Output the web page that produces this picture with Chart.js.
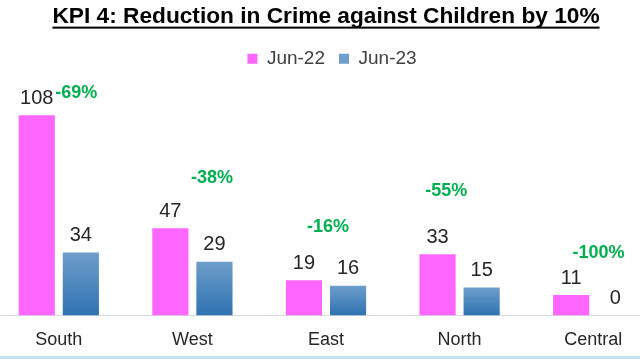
<!DOCTYPE html>
<html><head><meta charset="utf-8">
<script src="https://cdn.jsdelivr.net/npm/chart.js@4.4.1/dist/chart.umd.min.js"></script>
<style>
html,body{margin:0;padding:0;background:#fff;}
#wrap{position:relative;width:640px;height:360px;overflow:hidden;background:#fff;}
#c{position:absolute;left:-8px;top:0;}
#rule{position:absolute;left:0;top:356px;width:640px;height:3px;background:#bfe4f0;}
</style></head><body>
<div id="wrap"><canvas id="c" width="668" height="371"></canvas><div id="rule"></div></div>
<script>
// ---- data ----
const categories = ['South', 'West', 'East', 'North', 'Central'];
const seriesNames = ['Jun-22', 'Jun-23'];
const jun22 = [108, 47, 19, 33, 11];
const jun23 = [34, 29, 16, 15, 0];
const changeLabels = ['-69%', '-38%', '-16%', '-55%', '-100%'];
const titleText = 'KPI 4: Reduction in Crime against Children by 10%';

// ---- styling / placement ----
const FONT = '"Liberation Sans", Arial, sans-serif';
const PINK = '#FF66FF';
const BLUE_TOP = '#6e9ecb', BLUE_BOTTOM = '#2e72b1', BLUE_FLAT = '#4a86c0';
// annotation anchors for the change labels: [offset in category widths, value-axis position]
const changeAnchor = [[0.13, 120], [0.146, 74], [0.015, 47.6], [-0.10, 67], [0.04, 33.5]];

function blueFill(ctx) {
  if (ctx.type !== 'data') return BLUE_FLAT;
  const chart = ctx.chart;
  if (!chart.chartArea || !chart.scales.y) return BLUE_FLAT;
  const y = chart.scales.y;
  const top = y.getPixelForValue(ctx.raw);
  const bottom = y.getPixelForValue(0);
  if (!isFinite(top) || !isFinite(bottom) || bottom - top < 1) return BLUE_FLAT;
  const g = chart.ctx.createLinearGradient(0, top, 0, bottom);
  g.addColorStop(0, BLUE_TOP);
  g.addColorStop(1, BLUE_BOTTOM);
  return g;
}

const labelPlugin = {
  id: 'valueLabels',
  afterDatasetsDraw(chart) {
    const ctx = chart.ctx;
    ctx.save();
    ctx.textAlign = 'center';
    ctx.textBaseline = 'middle';
    ctx.font = '20px ' + FONT;
    ctx.fillStyle = '#262626';
    chart.data.datasets.forEach((ds, i) => {
      chart.getDatasetMeta(i).data.forEach((el, j) => {
        ctx.fillText(String(ds.data[j]), el.x, el.y - 17);
      });
    });
    const xs = chart.scales.x, ys = chart.scales.y;
    const catW = xs.getPixelForValue(1) - xs.getPixelForValue(0);
    ctx.font = 'bold 18px ' + FONT;
    ctx.fillStyle = '#00B050';
    changeLabels.forEach((t, j) => {
      const a = changeAnchor[j];
      ctx.fillText(t, xs.getPixelForValue(j) + a[0] * catW, ys.getPixelForValue(a[1]));
    });
    ctx.restore();
  }
};

const TITLE_PAD = {top: 3, bottom: 5};
const TITLE_FONT = {family: FONT, size: 22.7, weight: 'bold', lineHeight: 1.2};
const LEGEND_SHIFT = 6;
const underlinePlugin = {
  id: 'titleUnderline',
  afterLayout(chart) {
    if (chart.legend) {
      chart.legend.left += LEGEND_SHIFT;
      chart.legend.right += LEGEND_SHIFT;
    }
  },
  afterDraw(chart) {
    const tb = chart.titleBlock;
    if (!tb) return;
    const ctx = chart.ctx;
    ctx.save();
    ctx.font = 'bold ' + TITLE_FONT.size + 'px ' + FONT;
    const w = ctx.measureText(titleText).width;
    const cx = (tb.left + tb.right) / 2;
    const cy = tb.top + TITLE_PAD.top + TITLE_FONT.size * TITLE_FONT.lineHeight / 2;
    ctx.fillStyle = '#000';
    ctx.fillRect(cx - w / 2, cy + 10, w, 2);
    ctx.restore();
  }
};

new Chart(document.getElementById('c'), {
  type: 'bar',
  data: {
    labels: categories,
    datasets: [
      {label: seriesNames[0], data: jun22, backgroundColor: PINK, borderWidth: 0},
      {label: seriesNames[1], data: jun23, backgroundColor: blueFill, borderWidth: 0}
    ]
  },
  options: {
    responsive: false,
    animation: false,
    devicePixelRatio: 1,
    layout: {padding: {left: 0, right: 0, top: 0, bottom: 6}},
    datasets: {bar: {categoryPercentage: 0.66, barPercentage: 0.82}},
    scales: {
      x: {
        grid: {display: false, drawTicks: false},
        border: {display: true, color: '#d9d9d9', width: 1},
        ticks: {padding: 14, color: '#262626', font: {family: FONT, size: 18}}
      },
      y: {
        display: false,
        min: 0,
        max: 128
      }
    },
    plugins: {
      title: {
        display: true,
        text: titleText,
        color: '#000',
        font: TITLE_FONT,
        padding: TITLE_PAD
      },
      legend: {
        display: true,
        position: 'top',
        labels: {
          boxWidth: 10, boxHeight: 10, padding: 14,
          color: '#404040',
          font: {family: FONT, size: 19}
        }
      },
      tooltip: {enabled: false}
    }
  },
  plugins: [labelPlugin, underlinePlugin]
});
</script>
</body></html>
